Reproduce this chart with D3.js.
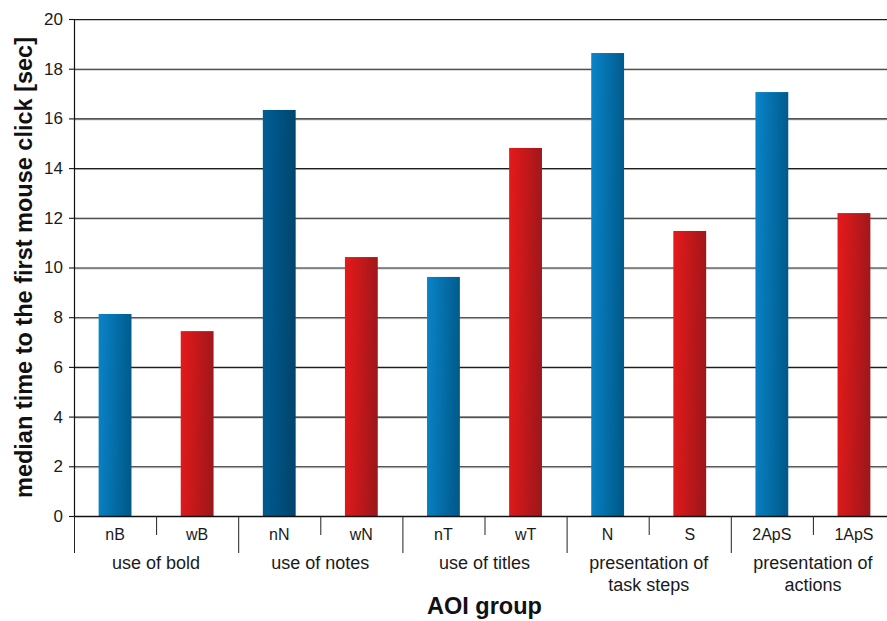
<!DOCTYPE html>
<html>
<head>
<meta charset="utf-8">
<script src="https://cdn.jsdelivr.net/npm/d3@7"></script>
<style>
  html, body { margin: 0; padding: 0; background: #fff; }
  svg { display: block; font-family: "Liberation Sans", Arial, sans-serif; }
</style>
</head>
<body>
<svg id="chart" width="887" height="621"></svg>
<script>
// AOI categories, their groups and median time values
const categories = ["nB", "wB", "nN", "wN", "nT", "wT", "N", "S", "2ApS", "1ApS"];
const values = [8.13, 7.44, 16.34, 10.42, 9.62, 14.81, 18.63, 11.47, 17.06, 12.19];
const series = ["blue", "red", "blueDark", "red", "blue", "red", "blue", "red", "blue", "red"];
const groups = [
  ["use of bold"],
  ["use of notes"],
  ["use of titles"],
  ["presentation of", "task steps"],
  ["presentation of", "actions"]
];
const yTicks = [0, 2, 4, 6, 8, 10, 12, 14, 16, 18, 20];

const svg = d3.select("#chart");
const plotLeft = 74, plotRight = 895, plotTop = 19, plotBottom = 516;

const x = d3.scaleBand().domain(categories).range([plotLeft, plotRight]).paddingInner(0.6).paddingOuter(0.3);
const xBand = d3.scaleBand().domain(categories).range([plotLeft, plotRight]);
const y = d3.scaleLinear().domain([0, 20]).range([plotBottom, plotTop]);

// Gradients for the bar fills
const defs = svg.append("defs");
const grads = {
  blue: ["#0a84c9", "#005b8c"],
  blueDark: ["#005e96", "#00466e"],
  red: ["#e61a1a", "#a0171a"]
};
Object.entries(grads).forEach(([id, [c0, c1]]) => {
  const g = defs.append("linearGradient").attr("id", "g-" + id)
    .attr("x1", 0).attr("y1", 0).attr("x2", 1).attr("y2", 0.12);
  g.append("stop").attr("offset", "0%").attr("stop-color", c0);
  g.append("stop").attr("offset", "100%").attr("stop-color", c1);
});

// Horizontal gridlines with a light shadow below
const grid = svg.append("g");
yTicks.filter(t => t > 0).forEach(t => {
  grid.append("line").attr("x1", plotLeft).attr("x2", 887)
    .attr("y1", y(t) + 1.5).attr("y2", y(t) + 1.5)
    .attr("stroke", "#c8c8c8").attr("stroke-width", 1);
  grid.append("line").attr("x1", plotLeft).attr("x2", 887)
    .attr("y1", y(t) + 0.5).attr("y2", y(t) + 0.5)
    .attr("stroke", "#1e1e1e").attr("stroke-width", 1.1);
});

// Bars
svg.append("g").selectAll("rect").data(categories).join("rect")
  .attr("x", d => x(d))
  .attr("width", x.bandwidth())
  .attr("y", (d, i) => y(values[i]))
  .attr("height", (d, i) => y(0) - y(values[i]))
  .attr("fill", (d, i) => "url(#g-" + series[i] + ")");

// Y axis
const yAxis = svg.append("g").attr("transform", `translate(${plotLeft},0)`)
  .call(d3.axisLeft(y).tickValues(yTicks).tickSize(5).tickPadding(6).tickFormat(d3.format("d")));
yAxis.select(".domain").attr("stroke", "#111").attr("stroke-width", 1.2).attr("d", `M0.5,${plotTop}V${plotBottom}`);
yAxis.selectAll(".tick line").attr("stroke", "#111").attr("stroke-width", 1.1);
yAxis.selectAll(".tick text").attr("font-size", 17).attr("fill", "#1a1a1a")
  .attr("font-family", "'Liberation Sans', Arial, sans-serif");

// X axis baseline
svg.append("line").attr("x1", plotLeft).attr("x2", 887)
  .attr("y1", plotBottom + 0.5).attr("y2", plotBottom + 0.5)
  .attr("stroke", "#111").attr("stroke-width", 1.3);

// Category dividers: short within a group, long at group boundaries
const divs = d3.range(categories.length + 1);
svg.append("g").selectAll("line").data(divs).join("line")
  .attr("x1", i => (i < categories.length ? xBand(categories[i]) : plotRight) + 0.5)
  .attr("x2", i => (i < categories.length ? xBand(categories[i]) : plotRight) + 0.5)
  .attr("y1", plotBottom)
  .attr("y2", i => i % 2 === 0 ? 553 : 535)
  .attr("stroke", "#222").attr("stroke-width", 1);

// Category labels
svg.append("g").selectAll("text").data(categories).join("text")
  .attr("x", d => xBand(d) + xBand.bandwidth() / 2)
  .attr("y", 540)
  .attr("text-anchor", "middle")
  .attr("font-size", 16).attr("fill", "#1a1a1a")
  .text(d => d);

// Group labels
const gl = svg.append("g").selectAll("text").data(groups).join("text")
  .attr("x", (d, i) => xBand(categories[i * 2]) + xBand.bandwidth())
  .attr("y", 569)
  .attr("text-anchor", "middle")
  .attr("font-size", 18).attr("fill", "#1a1a1a");
gl.selectAll("tspan").data(d => d).join("tspan")
  .attr("x", function () { return d3.select(this.parentNode).attr("x"); })
  .attr("dy", (d, i) => i === 0 ? 0 : 21.5)
  .text(d => d);

// Axis titles
svg.append("text")
  .attr("x", (plotLeft + plotRight) / 2).attr("y", 614)
  .attr("text-anchor", "middle")
  .attr("font-size", 23.5).attr("font-weight", "bold").attr("fill", "#111")
  .text("AOI group");

svg.append("text")
  .attr("transform", `translate(32,${(plotTop + plotBottom) / 2}) rotate(-90)`)
  .attr("text-anchor", "middle")
  .attr("font-size", 23.5).attr("font-weight", "bold").attr("fill", "#111")
  .text("median time to the first mouse click [sec]");
</script>
</body>
</html>
